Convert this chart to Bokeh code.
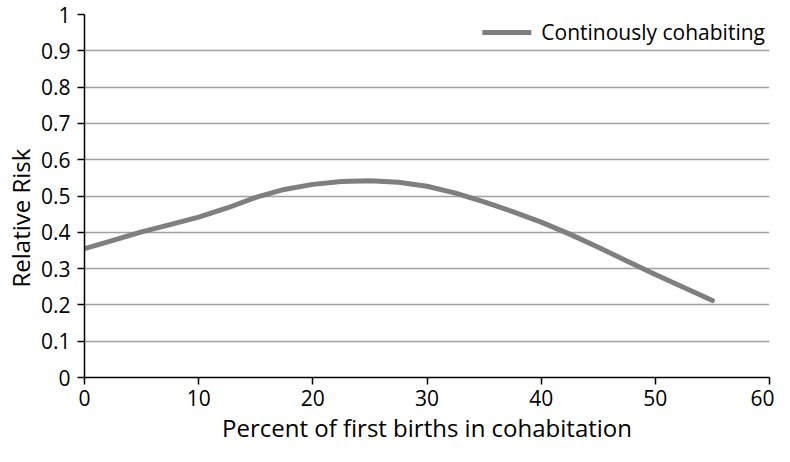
from bokeh.plotting import figure
from bokeh.models import Range1d, FixedTicker, Legend, LegendItem, CustomJSTickFormatter, Title
from bokeh.embed import file_html
from bokeh.resources import INLINE

# Data
pct_first_births = [0, 2.5, 5, 7.5, 10, 12.5, 15, 17.5, 20, 22.5, 25, 27.5, 30,
                    32.5, 35, 37.5, 40, 42.5, 45, 47.5, 50, 52.5, 55]
relative_risk = [0.355, 0.378, 0.401, 0.421, 0.442, 0.467, 0.496, 0.518, 0.532, 0.540,
                 0.542, 0.538, 0.527, 0.508, 0.484, 0.457, 0.428, 0.395, 0.359, 0.321,
                 0.284, 0.248, 0.212]
series_name = "Continously cohabiting"
x_title = "Percent of first births in cohabitation"
y_title = "Relative Risk"
x_ticks = [0, 10, 20, 30, 40, 50, 60]
y_ticks = [0, 0.1, 0.2, 0.3, 0.4, 0.5, 0.6, 0.7, 0.8, 0.9, 1]

FONT = "Open Sans"

p = figure(width=774, height=446, output_backend="svg", toolbar_location=None,
           x_range=Range1d(0, 60), y_range=Range1d(0, 1),
           min_border_left=0, min_border_right=5, min_border_top=14,
           min_border_bottom=0)

p.outline_line_color = None
p.background_fill_color = "white"
p.xgrid.visible = False
p.ygrid.grid_line_color = "#a0a0a0"
p.ygrid.grid_line_width = 1.5

for ax in (p.xaxis[0], p.yaxis[0]):
    ax.axis_line_color = "black"
    ax.axis_line_width = 1.5
    ax.major_tick_line_color = "black"
    ax.major_tick_line_width = 1.5
    ax.major_tick_out = 7
    ax.major_tick_in = 0
    ax.minor_tick_line_color = None
    ax.major_label_text_font = FONT
    ax.major_label_text_font_size = "21px"
    ax.major_label_text_color = "black"
    ax.axis_label_text_font = FONT
    ax.axis_label_text_font_size = "24px"
    ax.axis_label_text_font_style = "normal"
    ax.axis_label_text_color = "black"

p.xaxis.ticker = FixedTicker(ticks=x_ticks)
p.yaxis.ticker = FixedTicker(ticks=y_ticks)
p.yaxis.formatter = CustomJSTickFormatter(code="return String(Math.round(tick*10)/10);")
p.xaxis.major_label_standoff = 5
p.yaxis.major_label_standoff = 7
p.xaxis.axis_label = x_title
p.xaxis.axis_label_standoff = 2

p.add_layout(Title(text=y_title, align="left", offset=90, standoff=2,
                   text_font=FONT, text_font_size="24px", text_font_style="normal",
                   text_color="black"), "left")

r = p.line(pct_first_births, relative_risk, line_color="#7f7f7f", line_width=5,
           line_cap="round", line_join="round")

legend = Legend(items=[LegendItem(label=series_name, renderers=[r])],
                location="top_right", border_line_color=None,
                background_fill_color="white", background_fill_alpha=1,
                label_text_font=FONT, label_text_font_size="21px",
                label_text_color="black", glyph_width=49, glyph_height=20,
                label_standoff=10, padding=5, margin=4, spacing=0)
p.add_layout(legend)

open("out.html", "w").write(file_html(p, INLINE))
